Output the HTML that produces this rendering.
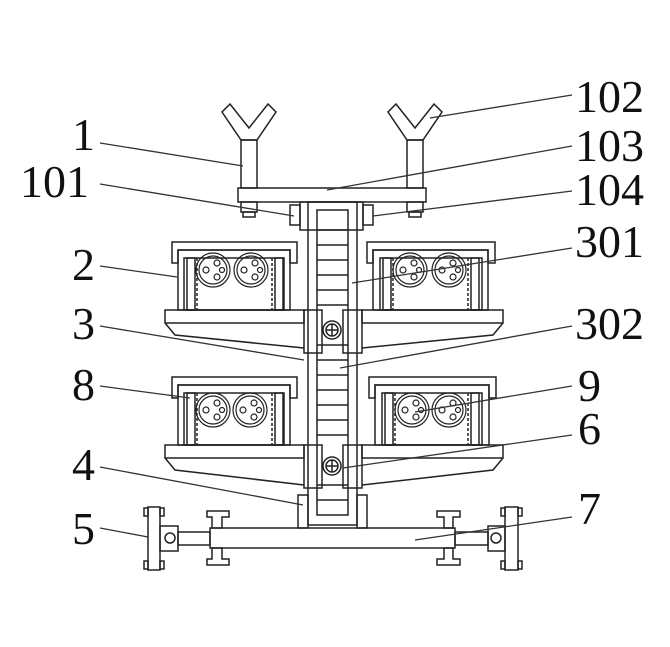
<!DOCTYPE html>
<html><head><meta charset="utf-8"><style>
html,body{margin:0;padding:0;background:#fff;}
svg{display:block;}
text{font-family:"Liberation Serif",serif;font-size:46px;fill:#111;}
</style></head><body>
<svg width="670" height="647" viewBox="0 0 670 647" xmlns="http://www.w3.org/2000/svg">
<defs>
<g id="roll" fill="none" stroke="#222" stroke-width="1.2">
<circle r="17"/><circle r="14"/>
<circle cx="-7" cy="0" r="3"/><circle cx="4" cy="-7" r="3"/><circle cx="4" cy="7" r="3"/><circle cx="9" cy="0" r="2.5"/>
</g>
</defs>
<g fill="none" stroke="#222" stroke-width="1.5">
<!-- Y supports -->
<path d="M241 140 L222 112 L230 104 L249 128 L268 104 L276 112 L257 140 Z"/>
<rect x="241" y="140" width="16" height="48"/>
<path d="M407 140 L388 112 L396 104 L415 128 L434 104 L442 112 L423 140 Z"/>
<rect x="407" y="140" width="16" height="48"/>
<rect x="238" y="188" width="188" height="14"/>
<rect x="241" y="202" width="16" height="10"/><rect x="243" y="212" width="12" height="5"/>
<rect x="407" y="202" width="16" height="10"/><rect x="409" y="212" width="12" height="5"/>
<rect x="300" y="202" width="63" height="28"/>
<rect x="290" y="205" width="10" height="20"/><rect x="363" y="205" width="10" height="20"/>
<rect x="308" y="202" width="49" height="323"/>
<rect x="317" y="210" width="31" height="305"/>
<path d="M317 230H348M317 245H348M317 260H348M317 275H348M317 290H348M317 305H348M317 345H348M317 360H348M317 375H348M317 390H348M317 405H348M317 420H348M317 435H348M317 485H348M317 500H348"/>
<rect x="298" y="495" width="10" height="33"/><rect x="357" y="495" width="10" height="33"/>

<path d="M172 263V242H297V263H290V250H178V263Z"/>
<rect x="178" y="250" width="112" height="60"/>
<rect x="184" y="258" width="100" height="52"/>
<rect x="187" y="258" width="8" height="52"/><rect x="275" y="258" width="8" height="52"/>
<path d="M367 263V242H495V263H488V250H373V263Z"/>
<rect x="373" y="250" width="115" height="60"/>
<rect x="380" y="258" width="102" height="52"/>
<rect x="383" y="258" width="8" height="52"/><rect x="471" y="258" width="8" height="52"/>
<path d="M165 310H304V323H165Z M165 323L175 335L304 348"/>
<path d="M362 310H503V323H362Z M503 323L493 335L362 348"/>
<rect x="304" y="310" width="18" height="43"/><rect x="343" y="310" width="19" height="43"/>
<circle cx="332" cy="330" r="9"/><circle cx="332" cy="330" r="6"/><path d="M326 330H338M332 324V336"/>

<path d="M172 398V377H297V398H290V385H178V398Z"/>
<rect x="178" y="385" width="112" height="60"/>
<rect x="184" y="393" width="100" height="52"/>
<rect x="187" y="393" width="8" height="52"/><rect x="275" y="393" width="8" height="52"/>
<path d="M369 398V377H496V398H489V385H375V398Z"/>
<rect x="375" y="385" width="114" height="60"/>
<rect x="382" y="393" width="100" height="52"/>
<rect x="385" y="393" width="8" height="52"/><rect x="471" y="393" width="8" height="52"/>
<path d="M165 445H304V458H165Z M165 458L175 470L304 485"/>
<path d="M362 445H503V458H362Z M503 458L493 470L362 485"/>
<rect x="304" y="445" width="18" height="43"/><rect x="343" y="445" width="19" height="43"/>
<circle cx="332" cy="466" r="9"/><circle cx="332" cy="466" r="6"/><path d="M326 466H338M332 460V472"/>

<rect x="210" y="528" width="245" height="20"/>
<rect x="178" y="532" width="32" height="13"/><rect x="455" y="532" width="33" height="13"/>
<rect x="160" y="526" width="18" height="25"/><rect x="488" y="526" width="17" height="25"/>
<circle cx="170" cy="538" r="5"/><circle cx="496" cy="538" r="5"/>
<rect x="148" y="507" width="12" height="63"/><rect x="505" y="507" width="13" height="63"/>
<rect x="144" y="508" width="4" height="8"/><rect x="160" y="508" width="4" height="8"/>
<rect x="144" y="561" width="4" height="8"/><rect x="160" y="561" width="4" height="8"/>
<rect x="501" y="508" width="4" height="8"/><rect x="518" y="508" width="4" height="8"/>
<rect x="501" y="561" width="4" height="8"/><rect x="518" y="561" width="4" height="8"/>
<path d="M207 511H229V517H222V528H212V517H207Z"/><path d="M207 565H229V559H222V548H212V559H207Z"/>
<path d="M437 511H460V517H453V528H444V517H437Z"/><path d="M437 565H460V559H453V548H444V559H437Z"/>
<path stroke-dasharray="3 2" d="M197 258V310M272 258V310M393 258V310M468 258V310M197 393V445M272 393V445M395 393V445M468 393V445"/>
</g>
<use href="#roll" x="213" y="270"/><use href="#roll" x="251" y="270"/>
<use href="#roll" x="410" y="270"/><use href="#roll" x="449" y="270"/>
<use href="#roll" x="213" y="410"/><use href="#roll" x="250" y="410"/>
<use href="#roll" x="412" y="410"/><use href="#roll" x="449" y="410"/>
<g stroke="#333" stroke-width="1.3">
<line x1="100" y1="143" x2="243" y2="166"/>
<line x1="572" y1="95" x2="430" y2="118"/>
<line x1="572" y1="146" x2="327" y2="190"/>
<line x1="100" y1="184" x2="294" y2="216"/>
<line x1="572" y1="191" x2="373" y2="216"/>
<line x1="100" y1="266" x2="177" y2="277"/>
<line x1="572" y1="248" x2="352" y2="283"/>
<line x1="100" y1="326" x2="304" y2="360"/>
<line x1="572" y1="326" x2="340" y2="368"/>
<line x1="100" y1="386" x2="190" y2="398"/>
<line x1="572" y1="386" x2="415" y2="412"/>
<line x1="100" y1="467" x2="303" y2="505"/>
<line x1="572" y1="435" x2="343" y2="468"/>
<line x1="100" y1="528" x2="148" y2="537"/>
<line x1="572" y1="517" x2="415" y2="540"/>
</g>
<text x="72" y="150">1</text>
<text x="575" y="112">102</text>
<text x="575" y="161">103</text>
<text x="20" y="197">101</text>
<text x="575" y="205">104</text>
<text x="72" y="280">2</text>
<text x="575" y="257">301</text>
<text x="72" y="339">3</text>
<text x="575" y="339">302</text>
<text x="72" y="400">8</text>
<text x="578" y="401">9</text>
<text x="72" y="480">4</text>
<text x="578" y="444">6</text>
<text x="72" y="544">5</text>
<text x="578" y="524">7</text>
</svg>
</body></html>
